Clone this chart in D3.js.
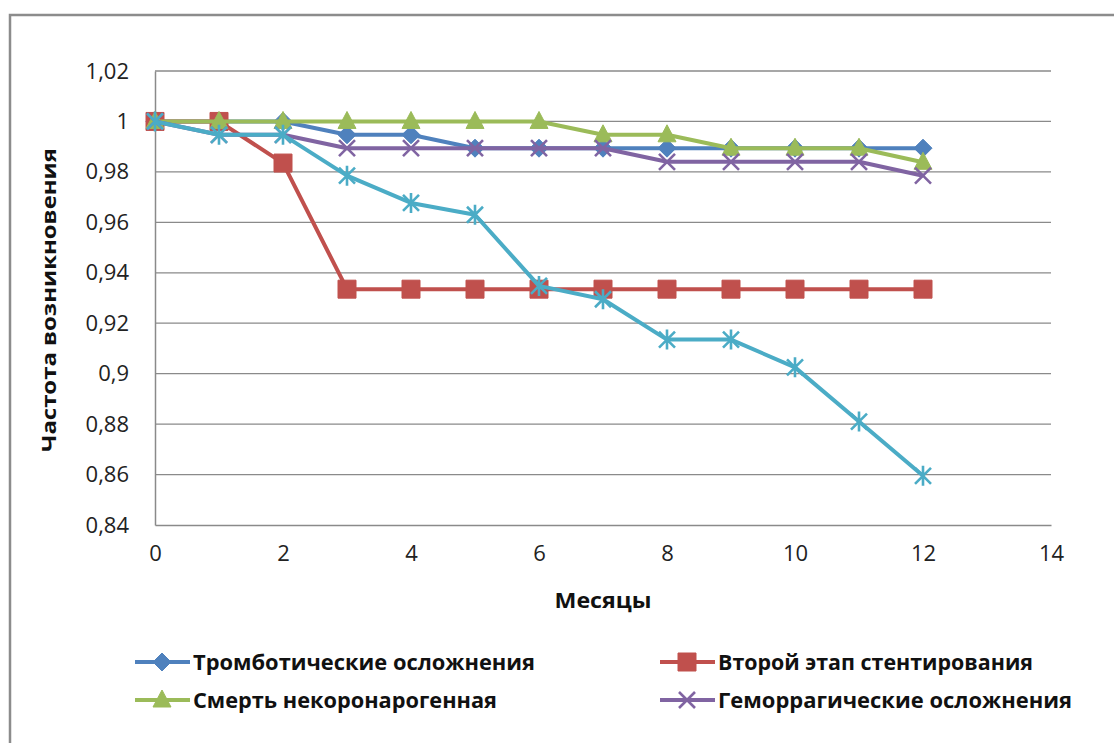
<!DOCTYPE html>
<html>
<head>
<meta charset="utf-8">
<script src="https://cdn.jsdelivr.net/npm/d3@7/dist/d3.min.js"></script>
<style>
  html, body { margin: 0; padding: 0; background: #fff; }
  svg { display: block; }
</style>
</head>
<body>
<svg id="chart" width="1114" height="743"></svg>
<script>
// Months of follow-up
const months = [0, 1, 2, 3, 4, 5, 6, 7, 8, 9, 10, 11, 12];

// Event-free rates per month
const thrombotic   = [1, 1, 1, 0.9947, 0.9947, 0.9894, 0.9894, 0.9894, 0.9894, 0.9894, 0.9894, 0.9894, 0.9894];
const secondStage  = [1, 1, 0.9835, 0.9335, 0.9335, 0.9335, 0.9335, 0.9335, 0.9335, 0.9335, 0.9335, 0.9335, 0.9335];
const nonCoronaryDeath = [1, 1, 1, 1, 1, 1, 1, 0.9947, 0.9947, 0.9894, 0.9894, 0.9894, 0.9838];
const hemorrhagic  = [1, 0.9947, 0.9947, 0.9894, 0.9894, 0.9894, 0.9894, 0.9894, 0.984, 0.984, 0.984, 0.984, 0.9785];
const combined     = [1, 0.9947, 0.9947, 0.9785, 0.9677, 0.963, 0.9348, 0.9295, 0.9135, 0.9135, 0.9025, 0.881, 0.8595];

// Axis ticks
const yTicks = [0.84, 0.86, 0.88, 0.9, 0.92, 0.94, 0.96, 0.98, 1, 1.02];
const xTicks = [0, 2, 4, 6, 8, 10, 12, 14];

const seriesNames = ["Тромботические осложнения", "Второй этап стентирования", "Смерть некоронарогенная", "Геморрагические осложнения", ""];
const seriesValues = [thrombotic, secondStage, nonCoronaryDeath, hemorrhagic, combined];
const seriesColors = ["#4F81BD", "#C0504D", "#9BBB59", "#8064A2", "#4BACC6"];
const seriesMarkers = ["diamond", "square", "triangle", "cross", "star"];

const yAxisTitle = "Частота возникновения";
const xAxisTitle = "Месяцы";

const svg = d3.select("#chart");
const fontFamily = "'Open Sans', 'Noto Sans', sans-serif";

// Outer chart frame
svg.append("rect")
  .attr("x", 10).attr("y", 15)
  .attr("width", 1200).attr("height", 800)
  .attr("fill", "#fff")
  .attr("stroke", "#8c8c8c")
  .attr("stroke-width", 2.5);

const x = d3.scaleLinear().domain([0, 14]).range([155, 1051]);
const y = d3.scaleLinear().domain([0.84, 1.02]).range([525, 71]);

const fmt = v => d3.format("")(+v.toFixed(2)).replace(".", ",");

// Horizontal gridlines
svg.append("g")
  .selectAll("line")
  .data(yTicks.filter(t => t > 0.84))
  .join("line")
  .attr("x1", x(0)).attr("x2", x(14))
  .attr("y1", d => y(d)).attr("y2", d => y(d))
  .attr("stroke", "#8a8a8a")
  .attr("stroke-width", 1.3);

// Y axis
const yAxis = svg.append("g")
  .attr("transform", `translate(${x(0)},0)`)
  .call(d3.axisLeft(y).tickValues(yTicks).tickSize(0).tickPadding(26).tickFormat(fmt));
yAxis.select(".domain").attr("stroke", "#8a8a8a").attr("stroke-width", 1.5);
yAxis.selectAll("text")
  .attr("font-family", fontFamily)
  .attr("font-size", 22)
  .attr("fill", "#222");

// X axis
const xAxis = svg.append("g")
  .attr("transform", `translate(0,${y(0.84)})`)
  .call(d3.axisBottom(x).tickValues(xTicks).tickSize(0).tickPadding(20).tickFormat(d3.format("d")));
xAxis.select(".domain").attr("stroke", "#8a8a8a").attr("stroke-width", 1.5);
xAxis.selectAll("text")
  .attr("font-family", fontFamily)
  .attr("font-size", 22)
  .attr("fill", "#222");

// Axis titles
svg.append("text")
  .attr("transform", `translate(56,300) rotate(-90)`)
  .attr("text-anchor", "middle")
  .attr("font-family", fontFamily)
  .attr("font-weight", 700)
  .attr("font-size", 20)
  .attr("textLength", 304)
  .attr("lengthAdjust", "spacingAndGlyphs")
  .attr("fill", "#111")
  .text(yAxisTitle);

svg.append("text")
  .attr("x", 603).attr("y", 608)
  .attr("text-anchor", "middle")
  .attr("font-family", fontFamily)
  .attr("font-weight", 700)
  .attr("font-size", 21)
  .attr("textLength", 97)
  .attr("lengthAdjust", "spacingAndGlyphs")
  .attr("fill", "#111")
  .text(xAxisTitle);

// Marker shapes
function markerPath(kind) {
  switch (kind) {
    case "diamond": return "M0,-9L9,0L0,9L-9,0Z";
    case "square": return "M-9,-9H9V9H-9Z";
    case "triangle": return "M0,-10L9,7H-9Z";
    case "cross": return "M-8,-8L8,8M-8,8L8,-8";
    case "star": return "M-8,-8L8,8M-8,8L8,-8M0,-10V10";
  }
}
function drawMarker(g, kind, color, cx, cy) {
  const filled = kind === "diamond" || kind === "square" || kind === "triangle";
  g.append("path")
    .attr("transform", `translate(${cx},${cy})`)
    .attr("d", markerPath(kind))
    .attr("fill", filled ? color : "none")
    .attr("stroke", color)
    .attr("stroke-width", filled ? 1 : 2.6)
    .attr("stroke-linejoin", "round");
}

const line = d3.line()
  .x((d, i) => x(months[i]))
  .y(d => y(d));

seriesValues.forEach((vals, si) => {
  const g = svg.append("g");
  g.append("path")
    .datum(vals)
    .attr("d", line)
    .attr("fill", "none")
    .attr("stroke", seriesColors[si])
    .attr("stroke-width", 4)
    .attr("stroke-linejoin", "round");
  vals.forEach((v, i) => drawMarker(g, seriesMarkers[si], seriesColors[si], x(months[i]), y(v)));
});

// Legend
const legendItems = [
  { i: 0, x: 135, y: 662, w: 342 },
  { i: 1, x: 660, y: 662, w: 315 },
  { i: 2, x: 135, y: 700, w: 304 },
  { i: 3, x: 660, y: 700, w: 354 }
];
legendItems.forEach(it => {
  const g = svg.append("g");
  const c = seriesColors[it.i];
  g.append("line")
    .attr("x1", it.x).attr("x2", it.x + 55)
    .attr("y1", it.y).attr("y2", it.y)
    .attr("stroke", c).attr("stroke-width", 4);
  drawMarker(g, seriesMarkers[it.i], c, it.x + 27, it.y);
  g.append("text")
    .attr("x", it.x + 58).attr("y", it.y + 8)
    .attr("font-family", fontFamily)
    .attr("font-weight", 700)
    .attr("font-size", 22)
    .attr("textLength", it.w)
    .attr("lengthAdjust", "spacingAndGlyphs")
    .attr("fill", "#111")
    .text(seriesNames[it.i]);
});
</script>
</body>
</html>
